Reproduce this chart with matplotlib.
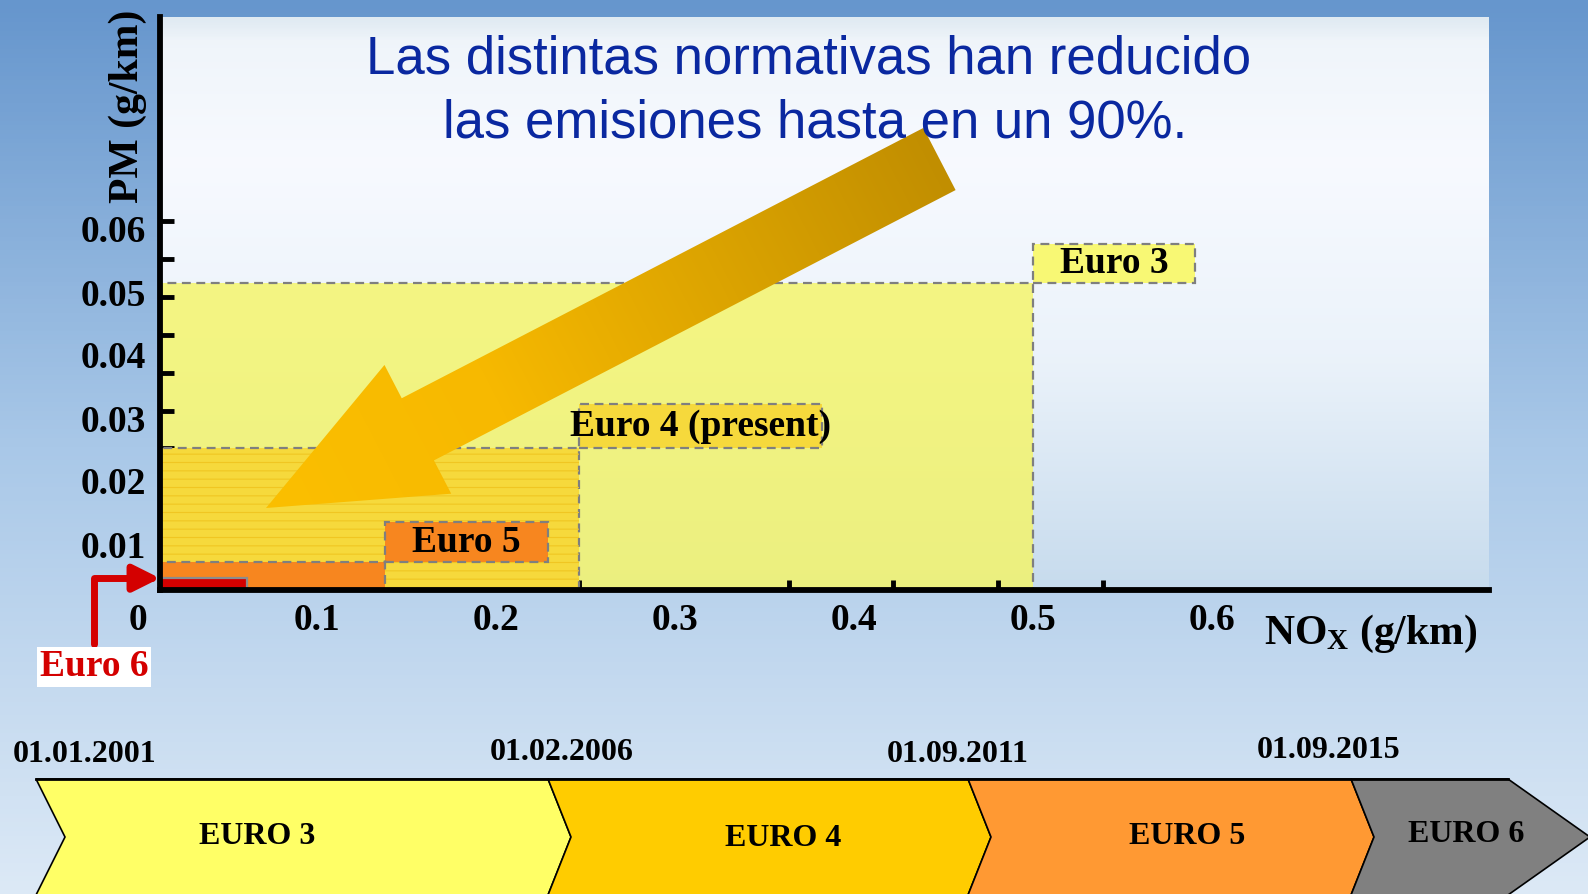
import numpy as np
import matplotlib
matplotlib.use("Agg")
import matplotlib.pyplot as plt
import matplotlib.patches as mpatches
from matplotlib.colors import LinearSegmentedColormap, to_rgb
from matplotlib.transforms import ScaledTranslation

# emission limits (g/km)
STANDARDS = ["Euro 3", "Euro 4", "Euro 5", "Euro 6"]
NOX_LIMIT = [0.50, 0.24, 0.129, 0.05]
PM_LIMIT  = [0.052, 0.024, 0.0047, 0.002]
BOX_TEXT  = ["Euro 3", "Euro 4 (present)", "Euro 5"]

X_TICKS = [0, 0.1, 0.2, 0.3, 0.4, 0.5, 0.6]
Y_TICKS = [0.01, 0.02, 0.03, 0.04, 0.05, 0.06]

# timeline below the chart
STAGES      = ["EURO 3", "EURO 4", "EURO 5", "EURO 6"]
START_DATES = ["01.01.2001", "01.02.2006", "01.09.2011", "01.09.2015"]

TITLE = ["Las distintas normativas han reducido",
         "las emisiones hasta en un 90%."]

# ---- styling / layout ----
W, H = 1588, 894
FILL      = ["#f5f564", "#f6d93c", "#f7861f", "#d40000"]
FILL_A    = [0.8, 1.0, 1.0, 1.0]
BOX_FILL  = ["#f8f874", "#f6d93c", "#f7861f"]
BOX_W     = [0.093, 0.139, 0.093]
BOX_H     = [0.0066, 0.0075, 0.0068]
DASH      = (0, (4, 2.5))

STAGE_COLORS = ["#ffff66", "#ffcc00", "#ff9933", "#808080"]
CHEVRON_X    = [36, 548, 968, 1351, 1508]
STAGE_TEXT_X = [257, 783, 1187, 1466]
STAGE_TEXT_Y = [837, 839, 837, 835]
DATE_X       = [85, 562, 958, 1329]
DATE_Y       = [754, 753, 755, 750]
TOP, MID, BOT, NOTCH = 779, 837, 895, 23

plt.rcParams["font.family"] = "Liberation Serif"
plt.rcParams["font.weight"] = "bold"
plt.rcParams["axes.labelweight"] = "bold"
plt.rcParams["mathtext.fontset"] = "custom"
plt.rcParams["mathtext.rm"] = "Liberation Serif:bold"
plt.rcParams["mathtext.bf"] = "Liberation Serif:bold"
plt.rcParams["mathtext.it"] = "Liberation Serif:bold:italic"
plt.rcParams["hatch.linewidth"] = 0.8

fig = plt.figure(figsize=(W / 100, H / 100), dpi=100)

# background slide gradient
bg = fig.add_axes([0, 0, 1, 1], zorder=0)
bg.set_axis_off()
bg_cmap = LinearSegmentedColormap.from_list("bg", ["#6696cd", "#a9c8e8", "#dce9f6"])
bg.imshow(np.linspace(0, 1, 200)[:, None], cmap=bg_cmap, aspect="auto",
          extent=(0, W, H, 0), origin="upper")
bg.set_xlim(0, W)
bg.set_ylim(H, 0)

# timeline chevrons
for i, stage in enumerate(STAGES):
    xl, xr = CHEVRON_X[i], CHEVRON_X[i + 1]
    left_in = xl + (29 if i == 0 else NOTCH)
    right_pt = xr + NOTCH if i < len(STAGES) - 1 else W + 2
    pts = [(xl, TOP), (xr, TOP), (right_pt, MID), (xr, BOT), (xl, BOT), (left_in, MID)]
    bg.add_patch(mpatches.Polygon(pts, closed=True, facecolor=STAGE_COLORS[i],
                                  edgecolor="black", lw=1.2))
    bg.text(STAGE_TEXT_X[i], STAGE_TEXT_Y[i], stage, ha="center", va="center",
            fontsize=23, color="black")
    bg.text(DATE_X[i], DATE_Y[i], START_DATES[i], ha="center", va="center",
            fontsize=23, color="black")
bg.plot([CHEVRON_X[0], CHEVRON_X[-1]], [TOP, TOP], color="black", lw=2)

# main chart
px_x, px_y = 1746.0, 5900.0  # pixels per g/km
left, right, top_px, base = 160, 1489, 17, 590
ax = fig.add_axes([left / W, (H - base) / H, (right - left) / W, (base - top_px) / H], zorder=5)
xmax = (right - left) / px_x
ymax = (base - top_px) / px_y

panel_cmap = LinearSegmentedColormap.from_list(
    "panel", [(0.0, (0.78, 0.86, 0.93)), (0.4, (0.92, 0.95, 0.98)),
              (0.75, (0.97, 0.98, 1.0)), (0.96, (0.94, 0.96, 0.98)),
              (1.0, (0.88, 0.92, 0.95))])
ax.imshow(np.linspace(1, 0, 200)[:, None], cmap=panel_cmap, aspect="auto",
          extent=(0, xmax, 0, ymax), origin="upper", zorder=0)

for i, name in enumerate(STANDARDS):
    fc = (*to_rgb(FILL[i]), FILL_A[i])
    if name == "Euro 6":
        ec, ls = "#8c8c8c", "-"
    else:
        ec, ls = "#7f7f7f", DASH
    ax.add_patch(mpatches.Rectangle((0, 0), NOX_LIMIT[i], PM_LIMIT[i], facecolor=fc,
                                    edgecolor=ec, linestyle=ls, lw=1.6, zorder=1 + i))
    if name == "Euro 4":
        ax.add_patch(mpatches.Rectangle((0, 0), NOX_LIMIT[i], PM_LIMIT[i], fill=False,
                                        hatch="--", edgecolor="#f0c622", lw=0, zorder=1.5 + i))

for i, label in enumerate(BOX_TEXT):
    x0, y0 = NOX_LIMIT[i], PM_LIMIT[i]
    ax.add_patch(mpatches.Rectangle((x0, y0), BOX_W[i], BOX_H[i], facecolor=BOX_FILL[i],
                                    edgecolor="#7f7f7f", linestyle=DASH, lw=1.6, zorder=6))
    ax.text(x0 + BOX_W[i] / 2, y0 + BOX_H[i] / 2, label, ha="center", va="center",
            fontsize=27, zorder=7)

# Euro 6 callout
ax.annotate("", xy=(0, PM_LIMIT[3]), xycoords="data",
            xytext=(-0.0497, -0.095), textcoords="axes fraction",
            arrowprops=dict(arrowstyle="-|>,head_length=1.0,head_width=0.5",
                            connectionstyle="angle,angleA=90,angleB=0,rad=0",
                            color="#d40000", lw=5, shrinkA=0, shrinkB=0,
                            mutation_scale=16),
            annotation_clip=False, zorder=8)
ax.text(-0.0497, -0.134, "Euro 6", transform=ax.transAxes, ha="center", va="center",
        color="#d40000", fontsize=27, zorder=9,
        bbox=dict(boxstyle="square,pad=0.06", fc="white", ec="none"))

ax.set_xlim(0, xmax)
ax.set_ylim(0, ymax)
ax.set_facecolor("none")
for s in ["top", "right"]:
    ax.spines[s].set_visible(False)
for s in ["left", "bottom"]:
    ax.spines[s].set_linewidth(4.2)
    ax.spines[s].set_zorder(10)

ax.set_xticks(X_TICKS)
ax.set_xticklabels([f"{v:g}" for v in X_TICKS])
ax.set_yticks(Y_TICKS)
ax.set_yticklabels([f"{v:.2f}" for v in Y_TICKS])
ax.set_xticks(np.arange(0.06, 0.61, 0.06), minor=True)
ax.set_yticks(np.arange(0.0047, 0.063, 0.00643), minor=True)
ax.tick_params(which="major", length=0, labelsize=27)
ax.tick_params(axis="x", which="major", pad=9)
ax.tick_params(axis="y", which="major", pad=10)
ax.tick_params(which="minor", direction="in", length=7, width=3.5, color="black")
ax.tick_params(axis="y", which="minor", length=10)

ax.set_ylabel("PM (g/km)", fontsize=30, fontweight="bold")
ax.yaxis.set_label_coords(-0.0098, 0.845)
ax.set_xlabel("NO$_\\mathbf{X}$ (g/km)", fontsize=30, fontweight="bold")
ax.xaxis.set_label_coords(0.911, -0.04)

# tick labels on the original slide are printed on a slightly different scale
# than the marks: shift them (in pixels) to where they sit there
for lab, v in zip(ax.get_xticklabels(), X_TICKS):
    dx = -22 + 44 * v
    lab.set_transform(lab.get_transform() + ScaledTranslation(dx / 100, 0, fig.dpi_scale_trans))
for lab, v in zip(ax.get_yticklabels(), Y_TICKS):
    dy = 17 - 400 * v
    lab.set_transform(lab.get_transform() + ScaledTranslation(0, -dy / 100, fig.dpi_scale_trans))

# overlay: big arrow and headline
ov = fig.add_axes([0, 0, 1, 1], zorder=20)
ov.set_axis_off()
ov.patch.set_visible(False)
ov.set_xlim(0, W)
ov.set_ylim(H, 0)

tail = np.array([939.5, 159.0])
tip = np.array([266.0, 508.0])
d = tip - tail
arrow = mpatches.FancyArrow(tail[0], tail[1], d[0], d[1], width=70, head_width=145,
                            head_length=171, length_includes_head=True,
                            facecolor="none", edgecolor="none")
ov.add_patch(arrow)
gx, gy = np.meshgrid(np.arange(240, 980), np.arange(100, 530))
t = ((gx - tail[0]) * d[0] + (gy - tail[1]) * d[1]) / (d @ d)
arrow_cmap = LinearSegmentedColormap.from_list("arr", ["#c18e00", "#dca400", "#f7b900", "#fbbf00"])
im = ov.imshow(np.clip(t, 0, 1), cmap=arrow_cmap, vmin=0, vmax=1, aspect="auto",
               extent=(240, 980, 530, 100), origin="upper", zorder=1)
im.set_clip_path(arrow)
ov.set_xlim(0, W)
ov.set_ylim(H, 0)

ov.text(809, 74, TITLE[0], ha="center", va="baseline", fontsize=38,
        family="Liberation Sans", weight="normal", color="#0a28a0", zorder=5)
ov.text(815, 137, TITLE[1], ha="center", va="baseline", fontsize=38,
        family="Liberation Sans", weight="normal", color="#0a28a0", zorder=5)

fig.savefig("out.png", dpi=100)
